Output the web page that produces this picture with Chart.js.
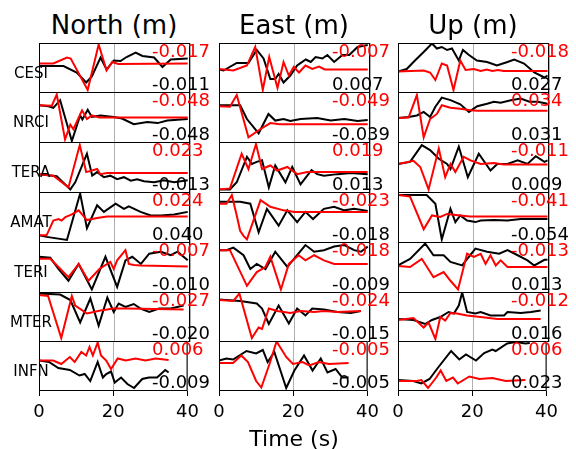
<!DOCTYPE html>
<html>
<head>
<meta charset="utf-8">
<script src="https://cdn.jsdelivr.net/npm/chart.js@4.4.1/dist/chart.umd.min.js"></script>
<style>
  body { margin: 0; background: #fff; }
  #fig { position: relative; width: 576px; height: 449px; overflow: hidden; background: #fff; }
  #fig canvas { position: absolute; }
  .txt { position: absolute; font-family: 'DejaVu Sans', sans-serif; line-height: 1; white-space: nowrap; z-index: 5; }
</style>
</head>
<body>
<div id="fig"></div>
<script>
const stations = ['CESI', 'NRCI', 'TERA', 'AMAT', 'TERI', 'MTER', 'INFN']
const components = ['North (m)', 'East (m)', 'Up (m)']
const timeTicks = [0, 20, 40]

// numbers printed at the right of every panel (red above, black below)
const redNorth = ['-0.017', '-0.048', '0.023', '0.024', '-0.007', '-0.027', '0.006']
const blackNorth = ['-0.011', '-0.048', '-0.013', '0.040', '-0.010', '-0.020', '-0.009']
const redEast = ['-0.007', '-0.049', '0.019', '-0.023', '-0.018', '-0.024', '-0.005']
const blackEast = ['0.007', '-0.039', '0.013', '-0.018', '-0.009', '-0.015', '-0.005']
const redUp = ['-0.018', '0.034', '-0.011', '-0.041', '-0.013', '-0.012', '0.006']
const blackUp = ['0.027', '0.031', '0.009', '-0.054', '0.013', '0.016', '0.023']

// traces: [time s, relative amplitude 0..10 inside the panel]
const northCesiBlack = [[0,5.4],[6.5,5.4],[10,4.1],[12.5,2.1],[14,3.3],[16.3,7.1],[17.9,4.7],[19.8,6.5],[21.6,6.4],[23.2,7.2],[25.6,8.1],[27.4,7.4],[30.5,7.1],[32.7,5.2],[34.9,6.7],[39.4,6.9]]
const northCesiRed = [[0,5.9],[3.8,5.9],[7.4,7.1],[8.4,6.9],[12.9,0.6],[15.8,9.7],[17.9,4.5],[19.4,6.2],[21,5.8],[39.4,5.9]]
const northNrciBlack = [[0,7.4],[2.5,7.2],[3.8,6.9],[5.6,8.4],[8.7,0.4],[10.9,5.4],[11.5,4.6],[12.9,6.5],[14,5.1],[16.3,5.4],[19.8,5.1],[22,4.8],[25.1,3.7],[28.7,4.1],[31.4,3.9],[34,4.4],[39.4,4.7]]
const northNrciRed = [[0,7.4],[3.4,7.3],[4.7,9.5],[6.9,0.7],[8.3,3.6],[9.1,2.7],[11.4,6.4],[12.7,4.7],[14,5.4],[16,5.0],[39.4,5.0]]
const northTeraBlack = [[0,3.7],[4.7,3.3],[8.3,0.7],[9.6,2.1],[12.7,7.7],[14.1,3.4],[15.4,4.1],[17.2,3.1],[18.9,3.4],[20.7,2.7],[22.5,3.1],[24.3,2.4],[26,2.7],[27.8,2.3],[30.5,2.1],[33.1,2.5],[35.8,2.1],[39.4,2.5]]
const northTeraRed = [[0,3.7],[3.8,3.4],[7.8,1.1],[10.8,9.4],[12.5,4.1],[15.4,4.7],[16.2,3.7],[18,3.9],[39.4,3.9]]
const northAmatBlack = [[0,1.5],[2,1.2],[7.4,0.6],[10.9,9.7],[12.7,2.9],[15.4,7.4],[17.2,6.1],[20.3,7.7],[22.5,6.7],[23.8,7.2],[26.9,6.1],[29.6,5.4],[32.3,5.4],[35.8,5.6],[39.4,6.1]]
const northAmatRed = [[0,1.5],[2,1.5],[3.8,4.4],[5.2,4.7],[6,4.4],[7,5.1],[8.7,5.6],[10.5,6.4],[12.7,4.5],[15.4,4.9],[18,5.2],[39.4,5.2]]
const northTeriBlack = [[0,7.1],[3,6.9],[5.2,4.7],[7.8,2.4],[10.5,5.7],[14,0.7],[17.6,7.1],[20.7,1.2],[22.9,6.4],[24.7,7.1],[27,5.7],[29.2,7.7],[32.3,8.1],[34.9,7.4],[36.7,8.1],[39.4,6.4]]
const northTeriRed = [[0,6.7],[3,6.7],[7.8,3.1],[10.5,5.7],[13.1,2.4],[16,4.7],[18.9,6.1],[19.8,4.7],[20.7,6.4],[22.9,8.4],[23.8,5.7],[25.1,5.5],[27,5.4],[39.4,5.2]]
const northMterBlack = [[0,9.7],[5.6,9.5],[8.3,8.4],[10.9,3.9],[13.6,8.7],[15.8,3.3],[18.1,8.9],[19.8,6.0],[21.1,7.7],[22.9,7.0],[25.1,7.6],[26.9,6.7],[29.2,6.0],[31.8,6.7],[34.9,6.7],[38.3,7.3]]
const northMterRed = [[0,9.4],[2.4,9.2],[5.9,0.8],[8.7,9.2],[9.6,7.3],[12.7,5.7],[16.3,6.3],[19.8,6.7],[23.4,6.7],[38.3,6.5]]
const northInfnBlack = [[0,6.1],[2.7,5.8],[5.2,4.6],[8.3,4.2],[10.9,3.1],[12.3,3.4],[13.8,2.0],[15.8,5.8],[17.2,2.7],[18.1,3.4],[19.4,3.9],[20.4,1.7],[22.1,2.7],[23.8,1.4],[25.6,0.6],[27.8,2.4],[29.6,2.7],[31.8,2.7],[34,4.2],[34.9,3.7]]
const northInfnRed = [[0,6.1],[3.8,6.1],[6,5.4],[8.3,6.8],[9.6,5.8],[11.4,7.8],[12.7,7.1],[13.6,8.8],[14.5,7.1],[15.8,9.7],[16.7,7.1],[18.1,6.1],[19.4,4.4],[21.2,6.5],[23.4,6.1],[26,6.5],[28.7,6.1],[31.4,6.5],[34.9,6.2]]

const eastCesiBlack = [[0,4.7],[1.2,4.5],[4.7,6.0],[7.8,6.0],[10,8.6],[11.8,6.9],[13.6,2.8],[14.9,2.8],[15.8,3.8],[17.1,2.1],[18.9,3.5],[20.7,5.5],[23,6.7],[24.3,6.2],[25.6,7.2],[27.4,6.9],[28.7,7.6],[30.5,6.2],[32.7,7.6],[34.5,7.6],[36.7,9.2],[39.4,9.6]]
const eastCesiRed = [[0,4.8],[3.8,4.5],[7.4,5.5],[9.6,9.2],[11.6,0.6],[13.3,7.2],[15.5,1.0],[17.1,6.2],[18.5,3.5],[19.8,5.2],[21.2,4.1],[22.9,5.5],[24.7,4.8],[26.5,5.3],[28,4.7],[39.4,4.7]]
const eastNrciBlack = [[0,7.4],[5.6,7.4],[7.4,4.7],[10.5,1.9],[13.1,5.7],[14.9,4.4],[17.1,4.7],[18.9,4.3],[21.6,4.7],[26,4.9],[29.6,4.4],[33.2,4.7],[36.7,4.3],[39.4,4.5]]
const eastNrciRed = [[0,7.2],[2.9,7.1],[4.7,9.4],[7.8,1.1],[10.9,2.7],[13.6,3.9],[16,3.7],[39.4,3.7]]
const eastTeraBlack = [[0,0.7],[2.9,0.7],[4.7,2.1],[7.4,7.1],[8.7,5.7],[10,6.1],[11.4,6.4],[13.2,1.1],[14.9,5.4],[17.6,2.1],[19.4,5.1],[21.6,1.7],[24.5,4.5],[26,3.7],[27.8,3.4],[31.4,3.7],[34.9,3.9],[39.4,3.7]]
const eastTeraRed = [[0,0.7],[2.9,0.9],[6,7.7],[7.8,4.7],[9.8,9.6],[11.4,4.7],[13.6,5.4],[15.4,4.4],[18.1,5.1],[20.7,3.7],[23.4,4.1],[26,4.1],[39.4,4.1]]
const eastAmatBlack = [[0,8.1],[5.6,8.1],[8.3,7.7],[10.5,2.1],[12.7,6.7],[15.8,3.4],[18.1,6.4],[20.7,4.1],[22.9,6.1],[24.9,4.7],[27.8,6.7],[30.5,7.1],[33.2,6.4],[35.8,6.7],[39.4,6.3]]
const eastAmatRed = [[0,7.7],[2,7.7],[3.4,9.4],[4.7,5.4],[5.6,2.4],[6.5,1.4],[7.4,0.7],[11,8.4],[13.6,7.1],[17.1,6.4],[20,6.1],[39.4,6.1]]
const eastTeriBlack = [[0,8.4],[2,8.4],[3.8,8.9],[6.5,7.4],[8.3,4.7],[10,5.7],[12.3,4.7],[14.9,8.1],[18.1,5.1],[20.3,7.1],[22.9,9.4],[25.2,8.1],[27.8,8.4],[30.5,9.1],[33.2,9.4],[35.8,8.4],[37.6,8.1],[39.4,9.1]]
const eastTeriRed = [[0,8.4],[2.9,8.4],[7.4,1.4],[10,4.1],[12.3,5.1],[13.6,7.1],[16.4,0.7],[18.5,5.7],[21.1,7.4],[22.9,6.4],[25.2,7.4],[27.8,6.4],[30.5,5.7],[39.4,5.7]]
const eastMterBlack = [[0,8.5],[5.6,8.2],[10,7.7],[11.4,6.7],[13.2,3.6],[15.8,7.3],[18.5,3.7],[20.7,6.7],[22.9,5.3],[24.7,6.7],[27.8,6.5],[31.4,6.0],[34.9,5.8],[37.6,6.2]]
const eastMterRed = [[0,8.4],[3.8,8.2],[5.4,9.7],[8.7,0.8],[10.5,2.9],[11.4,2.6],[13.2,6.7],[15.4,6.2],[18.9,5.8],[21.6,6.2],[25.2,6.0],[27.8,6.2],[31.4,6.0],[37.6,6.2]]
const eastInfnBlack = [[0,6.1],[2,6.5],[3.8,6.3],[7.4,8.0],[10,7.5],[11.8,8.2],[13.1,5.8],[14.9,7.8],[18.1,0.6],[20.3,4.1],[22.9,7.1],[25.2,4.1],[27.4,6.5],[29.2,3.7],[31.4,4.4],[33.2,2.7],[34.9,2.7]]
const eastInfnRed = [[0,5.6],[3.8,5.6],[6,7.1],[7.8,5.8],[10,2.0],[11.4,0.7],[13.6,5.4],[15.5,9.9],[18.1,6.8],[19.9,5.4],[22.5,5.8],[24.3,5.1],[26.9,5.8],[29.6,5.4],[34.9,5.6]]

const upCesiBlack = [[0,4.3],[2.3,4.8],[4.5,6.5],[6.8,8.2],[9,9.9],[10.3,8.9],[11.6,9.2],[13,8.6],[14.3,8.9],[16.1,6.5],[17.2,8.6],[18.8,7.6],[20.9,6.5],[23.6,6.2],[26.2,5.5],[29,6.2],[30.8,6.7],[33.4,5.9],[36.1,4.1],[38.8,3.1],[39.6,3.5]]
const upCesiRed = [[0,4.3],[6.8,4.5],[8.5,4.1],[9.9,2.6],[11.6,5.9],[13,5.5],[14.7,0.6],[16.5,6.5],[17.9,4.6],[20.1,4.8],[21.9,4.4],[23.5,4.7],[25,4.4],[26.5,4.6],[28,4.4],[39.6,4.4]]
const upNrciBlack = [[0,4.9],[2.8,5.1],[5,5.4],[6.8,6.1],[8.5,5.1],[9.9,7.1],[11.6,8.9],[13.9,8.4],[16.5,7.6],[18.8,6.1],[21,7.2],[23.6,7.7],[25.4,8.1],[27.2,7.9],[29.9,8.4],[32.5,8.7],[34.8,8.1],[37,8.1],[39.6,7.7]]
const upNrciRed = [[0,4.9],[2.8,5.0],[5,9.4],[6.8,1.1],[8.5,4.7],[10.3,5.7],[11.6,7.4],[13.9,6.9],[16.5,6.7],[19.2,6.4],[21,6.3],[39.6,6.3]]
const upTeraBlack = [[0,5.7],[3.2,6.1],[6.3,9.4],[8.5,8.4],[10.8,6.7],[13,5.7],[13.9,4.7],[16.1,9.1],[18.5,3.1],[21.4,7.7],[24.5,4.4],[26.3,5.7],[29,5.7],[31.7,6.4],[34.3,5.7],[36.5,7.2],[38.8,6.1],[39.6,6.4]]
const upTeraRed = [[0,5.7],[4.1,6.3],[5.9,5.1],[8.1,0.7],[10.8,8.7],[12.5,3.1],[13.9,5.7],[15.2,4.1],[17.4,7.1],[19.2,6.4],[21.9,5.7],[25.4,5.9],[28,5.6],[39.6,5.6]]
const upAmatBlack = [[0,9.4],[7.6,9.4],[9.9,7.7],[11.6,0.7],[13.9,6.7],[15.2,4.1],[16.5,5.4],[18.3,4.4],[20.5,4.1],[21.9,4.4],[25.4,4.5],[29,4.4],[32.5,4.7],[36.1,4.7],[39.6,4.7]]
const upAmatRed = [[0,9.4],[3.2,9.1],[6.8,2.7],[9,5.4],[11.2,5.1],[13,5.7],[16.5,5.4],[19,5.2],[39.6,5.2]]
const upTeriBlack = [[0,5.4],[3.2,6.7],[7.2,9.7],[9.4,7.4],[12.1,7.4],[13.9,6.1],[17,5.4],[20.5,8.7],[23.6,8.1],[26.8,7.7],[29,8.4],[31.7,7.4],[34.3,6.4],[36.1,5.4],[38.8,6.5],[39.6,6.5]]
const upTeriRed = [[0,5.3],[3.2,5.1],[6.3,6.7],[9.4,3.1],[12.1,4.1],[13.9,2.4],[15.9,0.7],[18.3,7.7],[20.1,7.1],[21.9,7.7],[23.2,5.7],[24.5,7.4],[25.9,5.4],[27.2,6.4],[29,5.1],[39.6,5.1]]
const upMterBlack = [[0,4.6],[4.1,4.4],[7.2,3.6],[9,4.4],[11.2,5.0],[13.4,6.0],[14.8,5.7],[16.1,7.3],[17,9.9],[18.3,6.0],[20.5,5.7],[21.9,6.0],[24.5,5.3],[28.1,5.3],[29,6.0],[32.5,5.8],[35.2,6.0],[37.8,6.3]]
const upMterRed = [[0,4.4],[4.1,4.8],[6.8,2.9],[8.1,3.9],[9.9,0.6],[11.2,5.0],[12.5,4.3],[13.9,5.8],[15.6,5.7],[18.3,5.3],[21.9,5.0],[26.3,4.6],[37.8,4.6]]
const upInfnBlack = [[0,2.2],[4.1,2.0],[6.3,1.5],[8.5,2.4],[10.7,4.6],[14.3,8.0],[16.5,6.3],[18.3,7.3],[21,6.1],[23.2,7.6],[25.4,8.3],[26.3,8.0],[29.4,9.5],[31.7,9.8],[34.3,9.5],[35.5,9.6]]
const upInfnRed = [[0,2.0],[5,2.0],[6.3,2.2],[8.1,0.6],[10.3,2.7],[11.5,4.1],[13,2.0],[14.8,2.7],[16.1,1.5],[19.2,2.9],[21.9,2.4],[25.4,2.6],[29,2.0],[34.3,2.2]]

const blackTraces = [
  [northCesiBlack, northNrciBlack, northTeraBlack, northAmatBlack, northTeriBlack, northMterBlack, northInfnBlack],
  [eastCesiBlack, eastNrciBlack, eastTeraBlack, eastAmatBlack, eastTeriBlack, eastMterBlack, eastInfnBlack],
  [upCesiBlack, upNrciBlack, upTeraBlack, upAmatBlack, upTeriBlack, upMterBlack, upInfnBlack]
]
const redTraces = [
  [northCesiRed, northNrciRed, northTeraRed, northAmatRed, northTeriRed, northMterRed, northInfnRed],
  [eastCesiRed, eastNrciRed, eastTeraRed, eastAmatRed, eastTeriRed, eastMterRed, eastInfnRed],
  [upCesiRed, upNrciRed, upTeraRed, upAmatRed, upTeriRed, upMterRed, upInfnRed]
]
const redLabels = [redNorth, redEast, redUp]
const blackLabels = [blackNorth, blackEast, blackUp]

// layout
const colLeft = [39, 219, 398]
const panelW = 151
const rowTop = [43, 92, 142, 192, 242, 292, 341]
const rowH = [49, 50, 50, 50, 50, 49, 49]
const side = 15
const axisH = 34

const fig = document.getElementById('fig')

const frame = {
  id: 'frame',
  afterDatasetsDraw (chart) {
    const { ctx, chartArea: a } = chart
    ctx.save()
    ctx.strokeStyle = '#000'
    ctx.lineWidth = 1
    ctx.strokeRect(a.left + 0.5, a.top + 0.5, a.right - a.left - 1, a.bottom - a.top - 1)
    ctx.restore()
  }
}

function toXY (pairs) {
  return pairs.map(p => ({ x: p[0], y: p[1] }))
}

function addText (str, left, top, size, color, width, align) {
  const d = document.createElement('div')
  d.className = 'txt'
  d.textContent = str
  d.style.left = left + 'px'
  d.style.top = top + 'px'
  d.style.fontSize = size + 'px'
  d.style.color = color
  if (width) {
    d.style.width = width + 'px'
    d.style.textAlign = align
  }
  fig.appendChild(d)
}

function makePanel (c, r) {
  const bottom = r === stations.length - 1
  const canvas = document.createElement('canvas')
  const h = rowH[r] + 1 + (bottom ? axisH : 0)
  canvas.width = panelW + 2 * side
  canvas.height = h
  canvas.style.left = (colLeft[c] - side) + 'px'
  canvas.style.top = rowTop[r] + 'px'
  fig.appendChild(canvas)

  new Chart(canvas, {
    type: 'line',
    data: {
      datasets: [
        { data: toXY(redTraces[c][r]), borderColor: '#ff0000', borderWidth: 2, pointRadius: 0, tension: 0, fill: false, order: 0 },
        { data: toXY(blackTraces[c][r]), borderColor: '#000000', borderWidth: 2, pointRadius: 0, tension: 0, fill: false, order: 1 }
      ]
    },
    options: {
      responsive: false,
      animation: false,
      devicePixelRatio: 1,
      events: [],
      layout: { padding: { left: side, right: side, top: 0, bottom: 0 } },
      plugins: { legend: { display: false }, tooltip: { enabled: false } },
      scales: {
        x: {
          type: 'linear',
          min: timeTicks[0],
          max: timeTicks[timeTicks.length - 1],
          afterBuildTicks: s => { s.ticks = timeTicks.map(v => ({ value: v })) },
          afterFit: s => { s.height = bottom ? axisH : 0 },
          ticks: {
            display: bottom,
            color: '#000',
            padding: 6,
            maxRotation: 0,
            font: { family: 'DejaVu Sans', size: 18 }
          },
          grid: { color: '#b0b0b0', lineWidth: 1, drawTicks: bottom, tickLength: 5, tickColor: '#000' },
          border: { display: false }
        },
        y: { display: false, min: 0, max: 10 }
      }
    },
    plugins: [frame]
  })

  const right = colLeft[c] + 113
  addText(redLabels[c][r], right, rowTop[r] - 1, 18, '#ff0000')
  addText(blackLabels[c][r], right, rowTop[r] + rowH[r] - 17, 18, '#000')
}

components.forEach((name, c) => {
  addText(name, colLeft[c] + 75 - 100, 12, 26, '#000', 200, 'center')
  stations.forEach((s, r) => makePanel(c, r))
})

stations.forEach((s, r) => {
  const mid = rowTop[r] + rowH[r] / 2
  addText(s, 31 - 40, mid - 2, 15, '#000', 80, 'center')
})

addText('Time (s)', colLeft[1] + 75 - 100, 428, 22, '#000', 200, 'center')
</script>
</body>
</html>
